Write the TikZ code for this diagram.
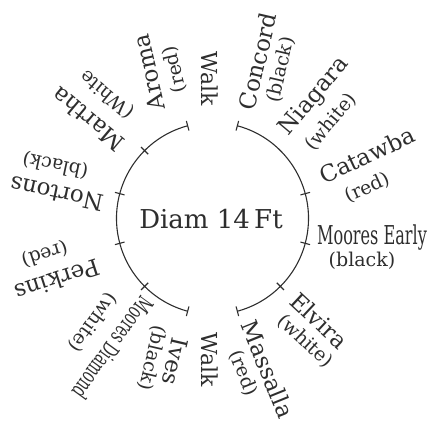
\documentclass[tikz,border=0pt]{standalone}
\usepackage{fontspec}
\setmainfont{DejaVu Serif}
\newfontfamily\condfont[FakeStretch=0.62]{DejaVu Serif}
\newfontfamily\condfontb[FakeStretch=0.6]{DejaVu Serif}
\usetikzlibrary{calc}
\definecolor{ink}{HTML}{2E2E2E}
\tikzset{
  vname/.style={font=\fontsize{23}{23}\selectfont, text=ink, inner sep=0pt},
  vcolor/.style={font=\fontsize{19}{19}\selectfont, text=ink, inner sep=0pt},
  walkname/.style={font=\fontsize{22}{22}\selectfont, text=ink, inner sep=0pt},
  ring/.style={draw=ink, line width=1.1pt},
}
\begin{document}
\begin{tikzpicture}[x=1pt,y=1pt]
\useasboundingbox (0,0) rectangle (434,425);
\coordinate (C) at (212.5,206.5);
% ring
\draw[ring] ($(C)+(75:96)$) arc[start angle=75, end angle=-75, radius=96];
\draw[ring] ($(C)+(105:96)$) arc[start angle=105, end angle=255, radius=96];
\foreach \a in {135,165,195,225,15,-15,-45,75,105,255,285}
  \draw[ring] ($(C)+(\a:91)$) -- ($(C)+(\a:101)$);
% centre
\node[font=\fontsize{26}{26}\selectfont, text=ink, inner sep=0pt] (diam) at (211,206) {Diam 14\,Ft};
% walks
\node[walkname, rotate=-90] (walktop) at (210,346) {Walk};
\node[walkname, rotate=-90] (walkbot) at (210,65) {Walk};
% right side
\node[vname, rotate=77] (concord) at (257.6,363.9) {Concord};
\node[vcolor, rotate=77] (concordc) at (281,355.3) {(black)};
\node[vname, rotate=50] (niagara) at (314.5,328.3) {Niagara};
\node[vcolor, rotate=50] (niagarac) at (331.3,303.1) {(white)};
\node[vname, rotate=25] (catawba) at (367,270) {Catawba};
\node[vcolor, rotate=25] (catawbac) at (367.8,237.2) {(red)};
\node[vname, font=\condfont\fontsize{26}{26}\selectfont] (mearly) at (372,187) {Moores Early};
\node[vcolor] (mearlyc) at (362,164) {(black)};
\node[vname, rotate=-43] (elvira) at (319.4,104.5) {Elvira};
\node[vcolor, rotate=-43] (elvirac) at (305,83.8) {(white)};
\node[vname, rotate=-68] (massalla) at (267.9,55.8) {Massalla};
\node[vcolor, rotate=-68] (massallac) at (243.2,51.9) {(red)};
% left side
\node[vname, rotate=103] (aroma) at (149,352.5) {Aroma};
\node[vcolor, rotate=103] (aromac) at (175,355.7) {(red)};
\node[vname, rotate=140] (martha) at (87.7,305.5) {Martha};
\node[vcolor, rotate=140] (marthac) at (107.3,330.5) {(White};
\node[vname, rotate=168] (nortons) at (56.6,231) {Nortons};
\node[vcolor, rotate=168] (nortonsc) at (55.4,260) {(black)};
\node[vname, rotate=198] (perkins) at (57.5,144.5) {Perkins};
\node[vcolor, rotate=198] (perkinsc) at (44.7,171) {(red)};
\node[vname, rotate=234, font=\condfontb\fontsize{23}{23}\selectfont] (mdiamond) at (113,77) {Moores Diamond};
\node[vcolor, rotate=234] (mdiamondc) at (92.6,102.8) {(white)};
\node[vname, rotate=257] (ives) at (175.5,63.5) {Ives};
\node[vcolor, rotate=257] (ivesc) at (152,67) {(black)};
\end{tikzpicture}
\end{document}
